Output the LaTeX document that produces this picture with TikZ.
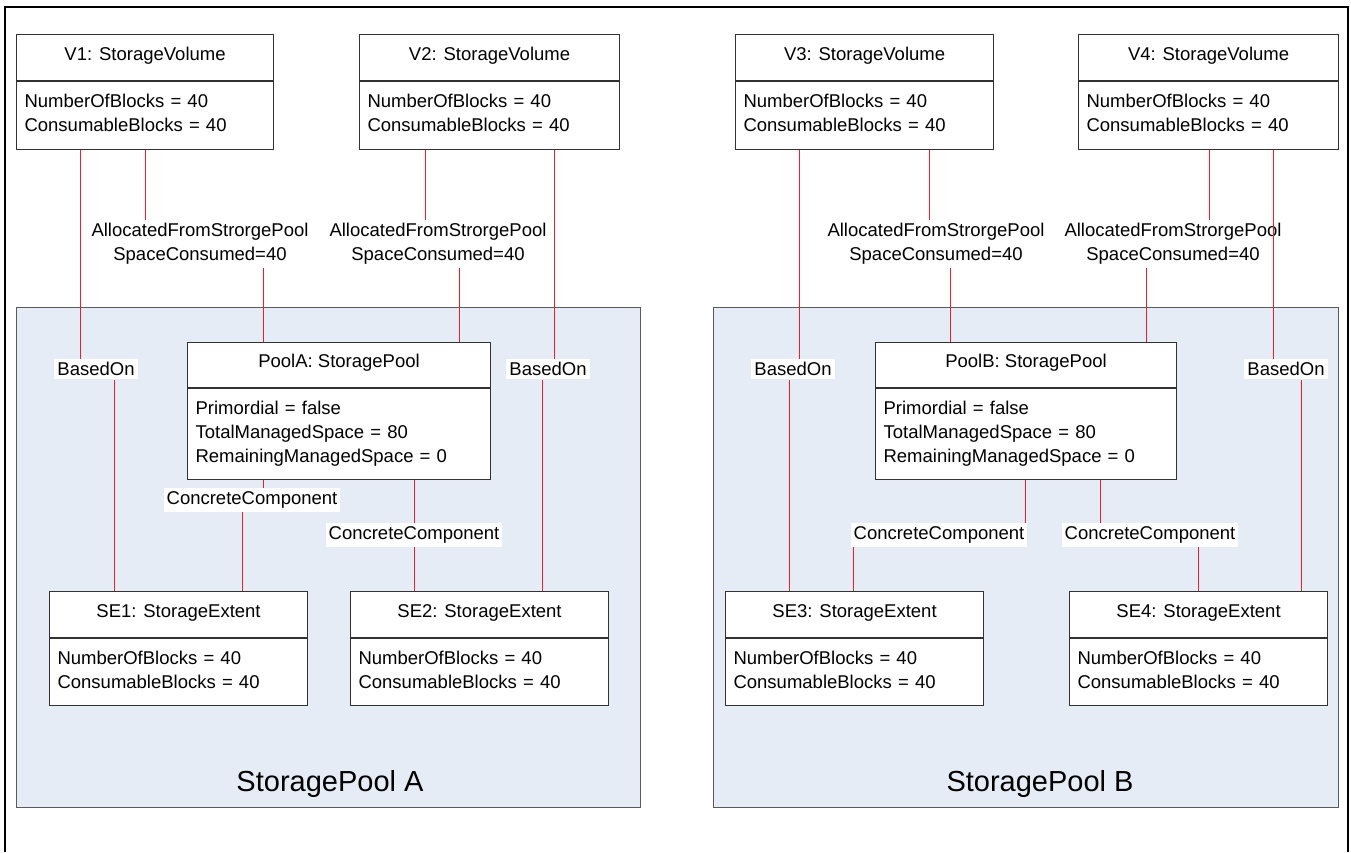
\documentclass[tikz,border=0pt]{standalone}
\usepackage{fontspec}
\setmainfont{Liberation Sans}
\usetikzlibrary{positioning}
\definecolor{poolfill}{RGB}{230,236,246}
\definecolor{poolline}{RGB}{90,90,90}
\definecolor{boxline}{RGB}{50,50,50}
\definecolor{linkred}{RGB}{240,30,40}
\tikzset{
  txt/.style={font=\fontsize{18.5}{24}\selectfont},
  titlebox/.style={txt, draw=boxline, line width=1.1, fill=white, anchor=north west, minimum height=46, inner sep=0, text height=13, text depth=8},
  attrbox/.style={txt, draw=boxline, line width=1.1, fill=white, anchor=north west, align=left, inner xsep=8, inner ysep=0, text height=25.5, text depth=42},
  pool/.style={draw=poolline, line width=1.1, fill=poolfill, anchor=north west, minimum width=624, minimum height=500},
  link/.style={draw=linkred, line width=0.9},
  lbl/.style={txt, fill=white, inner xsep=3, inner ysep=3.5},
  plainlbl/.style={txt, align=center, inner xsep=3, inner ysep=3}
}
\begin{document}
\begin{tikzpicture}[x=1pt, y=-1pt]
    \useasboundingbox (0,0) rectangle (1351,852);
    % frame
    \draw[line width=2] (5,852) -- (5,7) -- (1348,7) -- (1348,852);

    % pools
    \node[pool] (poolA) at (16,307) {};
    \node[pool, minimum width=625] (poolB) at (713,307) {};
    \node[font=\fontsize{29}{32}\selectfont] (poolAname) at (330,784) {StoragePool A};
    \node[font=\fontsize{29}{32}\selectfont] (poolBname) at (1040,784) {StoragePool B};

    % volumes
    \node[titlebox, minimum width=257] (v1) at (16,34) {V1: StorageVolume};
    \node[attrbox, text width=241] (v1a) at (v1.south west) {NumberOfBlocks = 40\\ConsumableBlocks = 40};
    \node[titlebox, minimum width=260] (v2) at (359,34) {V2: StorageVolume};
    \node[attrbox, text width=244] (v2a) at (v2.south west) {NumberOfBlocks = 40\\ConsumableBlocks = 40};
    \node[titlebox, minimum width=258] (v3) at (735,34) {V3: StorageVolume};
    \node[attrbox, text width=242] (v3a) at (v3.south west) {NumberOfBlocks = 40\\ConsumableBlocks = 40};
    \node[titlebox, minimum width=260] (v4) at (1078,34) {V4: StorageVolume};
    \node[attrbox, text width=244] (v4a) at (v4.south west) {NumberOfBlocks = 40\\ConsumableBlocks = 40};

    % storage pools
    \node[titlebox, minimum width=303, minimum height=45] (pa) at (187,342) {PoolA: StoragePool};
    \node[attrbox, text width=287, text depth=65.5] (paa) at (pa.south west) {Primordial = false\\TotalManagedSpace = 80\\RemainingManagedSpace = 0};
    \node[titlebox, minimum width=301, minimum height=45] (pb) at (875,342) {PoolB: StoragePool};
    \node[attrbox, text width=285, text depth=65.5] (pba) at (pb.south west) {Primordial = false\\TotalManagedSpace = 80\\RemainingManagedSpace = 0};

    % extents
    \node[titlebox, minimum width=258] (se1) at (49,591) {SE1: StorageExtent};
    \node[attrbox, text width=242, text depth=41.5] (se1a) at (se1.south west) {NumberOfBlocks = 40\\ConsumableBlocks = 40};
    \node[titlebox, minimum width=258] (se2) at (350,591) {SE2: StorageExtent};
    \node[attrbox, text width=242, text depth=41.5] (se2a) at (se2.south west) {NumberOfBlocks = 40\\ConsumableBlocks = 40};
    \node[titlebox, minimum width=258] (se3) at (725,591) {SE3: StorageExtent};
    \node[attrbox, text width=242, text depth=41.5] (se3a) at (se3.south west) {NumberOfBlocks = 40\\ConsumableBlocks = 40};
    \node[titlebox, minimum width=258] (se4) at (1069,591) {SE4: StorageExtent};
    \node[attrbox, text width=242, text depth=41.5] (se4a) at (se4.south west) {NumberOfBlocks = 40\\ConsumableBlocks = 40};

    % link labels
    \node[lbl] (bo1) at (96,369) {BasedOn};
    \node[lbl] (bo2) at (548,369) {BasedOn};
    \node[lbl] (bo3) at (793,369) {BasedOn};
    \node[lbl] (bo4) at (1286,369) {BasedOn};
    \node[plainlbl] (af1) at (200,244) {AllocatedFromStrorgePool\\SpaceConsumed=40};
    \node[plainlbl] (af2) at (438,244) {AllocatedFromStrorgePool\\SpaceConsumed=40};
    \node[plainlbl] (af3) at (936,244) {AllocatedFromStrorgePool\\SpaceConsumed=40};
    \node[plainlbl] (af4) at (1173,244) {AllocatedFromStrorgePool\\SpaceConsumed=40};
    \node[lbl] (cc1) at (252,500) {ConcreteComponent};
    \node[lbl] (cc2) at (414,535) {ConcreteComponent};
    \node[lbl] (cc3) at (939,535) {ConcreteComponent};
    \node[lbl] (cc4) at (1150,535) {ConcreteComponent};

    % links, pool A
    \draw[link] (v1a.south -| 80,0) -- (bo1.north -| 80,0);
    \draw[link] (bo1.south -| 114,0) -- (se1.north -| 114,0);
    \draw[link] (v1a.south -| 145,0) -- (af1.north -| 145,0);
    \draw[link] (af1.south -| 263,0) -- (pa.north -| 263,0);
    \draw[link] (v2a.south -| 425,0) -- (af2.north -| 425,0);
    \draw[link] (af2.south -| 459,0) -- (pa.north -| 459,0);
    \draw[link] (v2a.south -| 554,0) -- (bo2.north -| 554,0);
    \draw[link] (bo2.south -| 542,0) -- (se2.north -| 542,0);
    \draw[link] (paa.south -| 263,0) -- (cc1.north -| 263,0);
    \draw[link] (cc1.south -| 242,0) -- (se1.north -| 242,0);
    \draw[link] (paa.south -| 414,0) -- (cc2.north -| 414,0);
    \draw[link] (cc2.south -| 414,0) -- (se2.north -| 414,0);

    % links, pool B
    \draw[link] (v3a.south -| 799,0) -- (bo3.north -| 799,0);
    \draw[link] (bo3.south -| 789,0) -- (se3.north -| 789,0);
    \draw[link] (v3a.south -| 929,0) -- (af3.north -| 929,0);
    \draw[link] (af3.south -| 950,0) -- (pb.north -| 950,0);
    \draw[link] (v4a.south -| 1209,0) -- (af4.north -| 1209,0);
    \draw[link] (af4.south -| 1146,0) -- (pb.north -| 1146,0);
    \draw[link] (v4a.south -| 1273,0) -- (bo4.north -| 1273,0);
    \draw[link] (bo4.south -| 1301,0) -- (se4.north -| 1301,0);
    \draw[link] (pba.south -| 1025,0) -- (cc3.north -| 1025,0);
    \draw[link] (cc3.south -| 853,0) -- (se3.north -| 853,0);
    \draw[link] (pba.south -| 1100,0) -- (cc4.north -| 1100,0);
    \draw[link] (cc4.south -| 1198,0) -- (se4.north -| 1198,0);
\end{tikzpicture}
\end{document}
